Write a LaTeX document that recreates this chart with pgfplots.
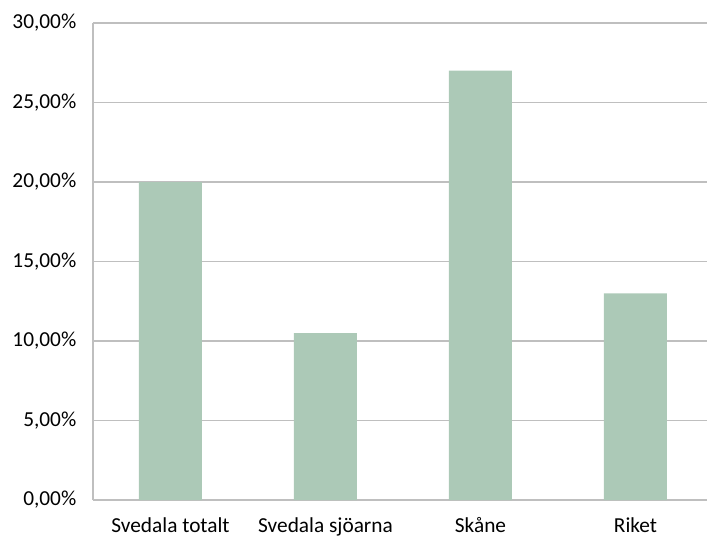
\documentclass[border=0pt]{standalone}
\usepackage{fontspec}
\setmainfont{Carlito}
\usepackage{pgfplots}
\pgfplotsset{compat=1.18}
\definecolor{barc}{HTML}{ACC9B7}
\definecolor{gridc}{HTML}{BFBFBF}
\begin{document}
\begin{tikzpicture}
\useasboundingbox (-69.75pt,-27pt) rectangle (460.5pt,375pt);
\begin{axis}[
  at={(0pt,0pt)}, anchor=south west,
  scale only axis,
  width=465pt, height=357.75pt,
  xmin=-0.5, xmax=3.5,
  ymin=0, ymax=30,
  axis x line*=bottom, axis y line*=left,
  axis line style={gridc, line width=1.1pt, -},
  ymajorgrids, grid style={gridc, line width=1.1pt},
  major tick length=0pt,
  xtick={0,1,2,3},
  xticklabels={Svedala totalt, Svedala sjöarna, Skåne, Riket},
  ytick={0,5,10,15,20,25,30},
  yticklabels={{0,00\%},{5,00\%},{10,00\%},{15,00\%},{20,00\%},{25,00\%},{30,00\%}},
  ticklabel style={font=\fontsize{16}{19}\selectfont, text=black},
  yticklabel style={xshift=-9pt},
  xticklabel style={anchor=base, yshift=-24pt},
  ybar, bar width=47.25pt,
  clip=false,
]
\addplot[fill=barc, draw=none] coordinates {(0,20.0) (1,10.5) (2,27.0) (3,13.0)};
\end{axis}
\end{tikzpicture}
\end{document}
